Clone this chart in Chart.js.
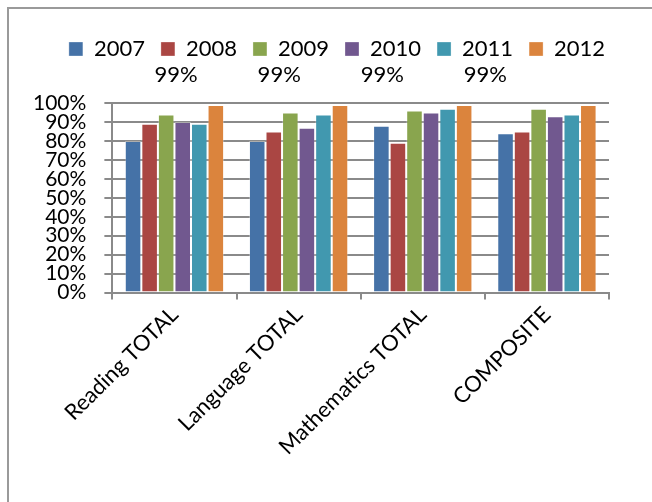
<!DOCTYPE html>
<html>
<head>
<meta charset="utf-8">
<script src="https://cdn.jsdelivr.net/npm/chart.js@4"></script>
<style>
    html, body { margin: 0; padding: 0; background: #fff; }
    #wrap { position: relative; width: 652px; height: 502px; overflow: hidden; }
    #frame { position: absolute; left: 7px; top: 7px; width: 700px; height: 600px;
             border-left: 2px solid #9a9a9a; border-top: 2px solid #9a9a9a; }
    #c { position: absolute; left: 0; top: 0; }
</style>
</head>
<body>
<div id="wrap">
    <div id="frame"></div>
    <canvas id="c" width="652" height="502"></canvas>
</div>
<script>
// data
const categories = ['Reading TOTAL', 'Language TOTAL', 'Mathematics TOTAL', 'COMPOSITE'];
const years = ['2007', '2008', '2009', '2010', '2011', '2012'];
const values2007 = [0.80, 0.80, 0.88, 0.84];
const values2008 = [0.89, 0.85, 0.79, 0.85];
const values2009 = [0.94, 0.95, 0.96, 0.97];
const values2010 = [0.90, 0.87, 0.95, 0.93];
const values2011 = [0.89, 0.94, 0.97, 0.94];
const values2012 = [0.99, 0.99, 0.99, 0.99];
const yearColors = ['#4572A7', '#AA4643', '#89A54E', '#71588F', '#4198AF', '#DB843D'];

const series = [values2007, values2008, values2009, values2010, values2011, values2012];
const FONT = 'Lato, "Liberation Sans", sans-serif';

// extra room under the legend, and center it where the original has it
const legendTweak = {
    id: 'legendTweak',
    beforeInit(chart) {
        const fit = chart.legend.fit;
        chart.legend.fit = function () {
            fit.call(this);
            this.height += 33;
        };
    },
    afterLayout(chart) {
        const lg = chart.legend;
        const shift = 337 - (lg.left + lg.right) / 2;
        lg.left += shift;
        lg.right += shift;
    }
};

// the 2012 value labels float above the plot, a bit left of their bars
const topLabels = {
    id: 'topLabels',
    afterDatasetsDraw(chart) {
        const meta = chart.getDatasetMeta(5);
        const ctx = chart.ctx;
        ctx.save();
        ctx.font = '22px ' + FONT;
        ctx.fillStyle = '#000';
        ctx.textAlign = 'center';
        ctx.textBaseline = 'middle';
        meta.data.forEach((bar, i) => {
            ctx.fillText(Math.round(values2012[i] * 100) + '%', bar.x * 0.83 - 3, chart.chartArea.top - 28);
        });
        ctx.restore();
    }
};

new Chart(document.getElementById('c').getContext('2d'), {
    type: 'bar',
    data: {
        labels: categories,
        datasets: years.map((y, i) => ({
            label: y,
            data: series[i],
            backgroundColor: yearColors[i],
            borderColor: 'rgba(255,255,255,0.3)',
            borderWidth: 1
        }))
    },
    options: {
        responsive: false,
        animation: false,
        layout: { padding: { top: 22, right: 43, left: 15, bottom: 40 } },
        datasets: { bar: { categoryPercentage: 0.8, barPercentage: 1.0 } },
        plugins: {
            legend: {
                position: 'top',
                labels: {
                    color: '#000',
                    font: { family: FONT, size: 22 },
                    boxWidth: 14, boxHeight: 14,
                    padding: 16
                }
            },
            tooltip: { enabled: false }
        },
        scales: {
            x: {
                grid: { drawOnChartArea: false, offset: true, color: '#8a8a8a', lineWidth: 2, tickLength: 7 },
                border: { color: '#8a8a8a', width: 2 },
                ticks: {
                    color: '#000',
                    font: { family: FONT, size: 22 },
                    maxRotation: 45, minRotation: 45,
                    padding: 2
                }
            },
            y: {
                min: 0, max: 1,
                grid: { color: '#8a8a8a', lineWidth: 2, tickLength: 8 },
                border: { color: '#8a8a8a', width: 2 },
                ticks: {
                    stepSize: 0.1,
                    autoSkip: false,
                    color: '#000',
                    font: { family: FONT, size: 21, lineHeight: 1 },
                    padding: 18,
                    callback: v => Math.round(v * 100) + '%'
                }
            }
        }
    },
    plugins: [legendTweak, topLabels]
});
</script>
</body>
</html>
